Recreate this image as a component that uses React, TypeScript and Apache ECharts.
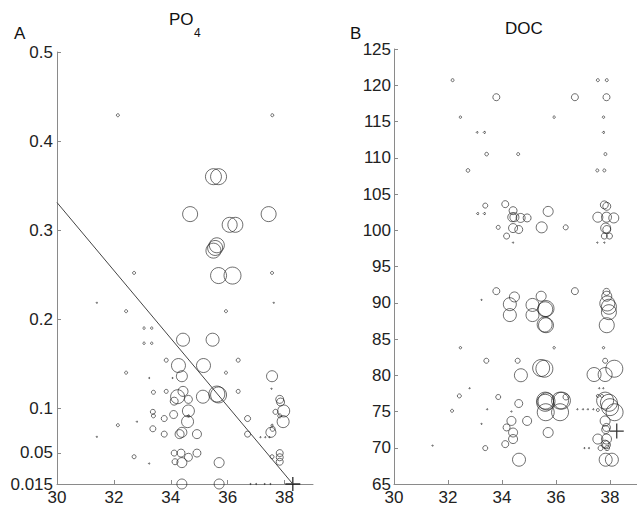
import React, { useEffect, useRef } from "react";
import * as echarts from "echarts";

// [salinity, value, bubble weight]
const po4Points: number[][] = [
  [32.14, 0.429, 1.5], [37.57, 0.429, 1.5],
  [35.5, 0.36, 8], [35.68, 0.36, 8],
  [34.68, 0.318, 7.5], [37.44, 0.318, 7.5],
  [36.07, 0.306, 7.5], [36.27, 0.306, 7.5],
  [35.62, 0.283, 7.5], [35.5, 0.277, 7.5], [35.56, 0.28, 7.5],
  [35.68, 0.249, 8], [36.17, 0.249, 8.5],
  [32.71, 0.252, 1.5], [37.56, 0.252, 1.5],
  [31.4, 0.2185, 0.6], [37.62, 0.2185, 0.6],
  [32.43, 0.209, 1.5], [35.94, 0.209, 1.5],
  [33.06, 0.19, 1.2], [33.33, 0.19, 1.2], [33.06, 0.173, 1.2], [33.33, 0.173, 1.2],
  [34.43, 0.177, 6.5], [35.47, 0.177, 6.5],
  [33.84, 0.154, 2], [36.37, 0.154, 2],
  [34.27, 0.148, 7], [35.15, 0.148, 7],
  [32.43, 0.14, 1.5], [35.94, 0.14, 1.5],
  [33.24, 0.134, 0.6], [34.06, 0.134, 0.6],
  [34.39, 0.136, 5.5], [37.56, 0.136, 5.5],
  [37.54, 0.122, 0.6],
  [33.39, 0.118, 2], [33.84, 0.119, 2],
  [34.24, 0.113, 7], [34.43, 0.119, 5], [34.62, 0.11, 4],
  [35.13, 0.113, 6.5], [35.62, 0.116, 8], [35.68, 0.115, 8],
  [36.37, 0.119, 2], [37.83, 0.11, 4], [37.86, 0.107, 4],
  [34.12, 0.108, 4], [34.62, 0.097, 6],
  [33.37, 0.096, 2.5], [33.39, 0.0915, 2], [34.1, 0.093, 4], [34.62, 0.0915, 1],
  [33.77, 0.0885, 3], [37.97, 0.097, 6], [37.68, 0.096, 2.5], [37.83, 0.0915, 2],
  [34.59, 0.085, 6], [37.95, 0.085, 6], [36.7, 0.0885, 3],
  [32.14, 0.081, 1.5], [32.81, 0.085, 0.6], [33.37, 0.077, 3],
  [37.56, 0.081, 1], [37.58, 0.077, 2.5],
  [31.4, 0.068, 0.6], [33.77, 0.071, 3],
  [34.39, 0.073, 5], [34.31, 0.071, 4.5], [34.92, 0.071, 4.5],
  [36.7, 0.071, 3],
  [37.15, 0.0675, 0.6], [37.32, 0.0675, 0.6], [37.47, 0.0675, 0.6],
  [37.52, 0.073, 5],
  [32.71, 0.0456, 2], [33.24, 0.038, 0.6],
  [34.12, 0.0497, 3], [34.36, 0.0497, 4], [34.92, 0.0497, 4], [34.62, 0.045, 4],
  [34.15, 0.04, 3], [34.39, 0.039, 5], [35.7, 0.039, 5],
  [37.56, 0.0456, 2], [37.83, 0.0497, 3.5], [37.83, 0.045, 3.5], [37.83, 0.04, 3.5],
  [34.39, 0.015, 5], [35.7, 0.015, 5],
  [36.8, 0.015, 0.6], [37.0, 0.015, 0.6], [37.3, 0.015, 0.6], [37.5, 0.015, 0.6],
];

const docPoints: number[][] = [
  [32.17, 120.7, 1.5], [37.55, 120.7, 1.5], [37.88, 120.7, 1.5],
  [33.79, 118.35, 3.5], [36.7, 118.35, 3.5], [37.87, 118.35, 3.5],
  [32.46, 115.6, 1.2], [35.93, 115.6, 1.2], [37.76, 115.6, 1.2],
  [33.08, 113.5, 0.8], [33.35, 113.5, 1], [37.76, 113.5, 1],
  [33.43, 110.5, 1.8], [34.6, 110.5, 1.5], [37.83, 110.5, 1.5],
  [32.74, 108.25, 1.8], [37.53, 108.25, 1.5], [37.79, 108.25, 1.5],
  [33.38, 103.4, 2.5], [33.1, 102.3, 1], [33.35, 102.3, 1],
  [34.12, 103.6, 3.5], [34.41, 102.7, 4], [34.38, 101.8, 4.5], [34.46, 101.8, 4.5],
  [34.69, 101.7, 4.5], [34.93, 101.7, 4], [33.86, 100.4, 2],
  [34.41, 100.3, 4.5], [34.62, 100.1, 4], [34.17, 99.2, 3], [34.41, 98.3, 0.6],
  [35.71, 102.6, 5], [35.47, 100.4, 5.5], [36.36, 100.4, 2.5],
  [37.79, 103.5, 4], [37.88, 103.3, 4], [37.55, 101.8, 5], [37.87, 101.8, 5],
  [38.14, 101.7, 5], [37.84, 100.3, 5], [37.88, 100.1, 4],
  [37.79, 99.2, 3], [37.98, 99.2, 3], [37.53, 98.3, 0.6], [37.79, 98.3, 0.6],
  [33.79, 91.6, 3.5], [33.24, 90.4, 0.6], [34.46, 90.8, 5],
  [34.29, 89.8, 6.5], [34.29, 88.3, 6.5], [35.13, 89.7, 6.5], [35.13, 88.3, 6.5],
  [35.45, 90.9, 5], [35.63, 89.2, 8], [35.6, 89.1, 7.5],
  [35.58, 87.0, 7.5], [35.63, 86.9, 7.5], [36.7, 91.6, 3.5],
  [37.87, 91.5, 3.5], [37.88, 90.9, 5], [37.9, 89.9, 7.5], [37.96, 89.45, 7.5],
  [37.96, 88.7, 7.5], [37.88, 86.9, 7.5],
  [32.46, 83.8, 1.2], [35.93, 83.8, 1.2], [37.76, 83.8, 1.2],
  [33.42, 82.0, 2.5], [34.58, 82.0, 2.5], [37.82, 82.0, 2.5],
  [34.7, 80.0, 6.5], [35.45, 81.0, 8.5], [35.57, 80.9, 8.5],
  [37.41, 80.1, 7], [37.82, 80.1, 7], [38.16, 80.9, 8.5],
  [32.8, 78.2, 0.6], [37.6, 78.2, 0.6], [37.75, 78.2, 0.6],
  [32.42, 77.15, 2], [33.86, 77.0, 2.5], [34.62, 76.1, 4],
  [35.6, 76.5, 8.5], [35.65, 76.4, 8.5], [35.6, 76.2, 8.5],
  [36.15, 76.5, 8.5], [36.22, 76.5, 8.5], [36.37, 77.0, 3],
  [35.62, 74.9, 8.5], [36.15, 74.9, 8.5],
  [33.45, 75.3, 0.6], [34.35, 75.0, 0.6], [32.15, 75.1, 1.5],
  [35.71, 72.1, 5], [34.93, 73.7, 4.5], [34.35, 73.7, 4.5], [34.17, 72.8, 3.5],
  [34.41, 72.1, 4.5], [34.41, 71.2, 4.5], [34.12, 70.5, 3.5], [33.38, 69.95, 2.5],
  [34.63, 68.35, 6.5], [31.43, 70.3, 0.6], [33.24, 73.3, 0.6],
  [36.79, 75.3, 0.6], [37.0, 75.3, 0.6], [37.18, 75.3, 0.6], [37.38, 75.3, 0.6],
  [37.55, 75.2, 1.5], [37.55, 77.15, 1.5], [37.7, 77.15, 1.5],
  [37.82, 76.5, 8.5], [37.96, 76.2, 8.5], [38.0, 75.6, 8.5], [38.17, 74.9, 8.5],
  [37.82, 73.7, 5], [37.87, 72.8, 4], [37.84, 72.5, 4],
  [37.55, 71.2, 5], [37.87, 71.2, 5], [37.82, 70.5, 4], [37.87, 70.4, 4],
  [37.65, 69.95, 2.5], [37.89, 69.95, 2.5], [37.05, 69.95, 0.6], [37.22, 69.95, 0.6],
  [37.84, 68.35, 6.5], [38.07, 68.35, 6.5],
];

const po4FitX = [30, 38.29];
const po4FitY = [0.331, 0.015];
const po4Marker = [38.29, 0.015];
const docMarker = [38.25, 72.3];

const xTicks = [30, 32, 34, 36, 38];
const po4Ticks = [0.015, 0.05, 0.1, 0.2, 0.3, 0.4, 0.5];

const FONT = "'Liberation Sans', Arial, Helvetica, sans-serif";
const AXIS_COLOR = "#8a8a8a";
const TEXT_COLOR = "#222";

function axisBase() {
  return {
    type: "value" as const,
    axisLine: { show: true, onZero: false, lineStyle: { color: AXIS_COLOR, width: 1 } },
    axisTick: { show: true, inside: true, length: 4, lineStyle: { color: AXIS_COLOR } },
    splitLine: { show: false },
    axisLabel: { color: TEXT_COLOR, fontSize: 17, fontFamily: FONT },
  };
}

const PLUS = "path://M7,0 L7,14 M0,7 L14,7";

export default function App() {
  const ref = useRef<HTMLDivElement>(null);
  useEffect(() => {
    if (!ref.current) return;
    const chart = echarts.init(ref.current, undefined, { renderer: "svg" });
    const bubble = (v: number[]) => v[2] * 2;
    const circleStyle = { color: "rgba(0,0,0,0)", borderColor: "#1a1a1a", borderWidth: 0.8 };
    const b0 = axisBase();
    const b1 = axisBase();
    const b2 = axisBase();
    const b3 = axisBase();
    chart.setOption({
      animation: false,
      backgroundColor: "#fff",
      grid: [
        { left: 57, top: 52, width: 256, height: 433 },
        { left: 394, top: 49, width: 257, height: 436 },
      ],
      xAxis: [
        {
          ...b0, gridIndex: 0, min: 30, max: 39,
          axisTick: { ...b0.axisTick, customValues: xTicks },
          axisLabel: { ...b0.axisLabel, customValues: xTicks, margin: 5 },
        },
        {
          ...b1, gridIndex: 1, min: 30, max: 39,
          axisTick: { ...b1.axisTick, customValues: xTicks },
          axisLabel: { ...b1.axisLabel, customValues: xTicks, margin: 5 },
        },
      ],
      yAxis: [
        {
          ...b2, gridIndex: 0, min: 0.015, max: 0.5,
          axisTick: { ...b2.axisTick, customValues: po4Ticks },
          axisLabel: {
            ...b2.axisLabel, customValues: po4Ticks, margin: 4,
            formatter: (v: number) => String(Math.round(v * 1000) / 1000),
          },
        },
        {
          ...b3, gridIndex: 1, min: 65, max: 125, interval: 5,
          axisLabel: { ...b3.axisLabel, margin: 3 },
        },
      ],
      series: [
        {
          type: "scatter", xAxisIndex: 0, yAxisIndex: 0,
          data: po4Points, symbol: "circle", symbolSize: bubble,
          itemStyle: circleStyle, clip: false,
        },
        {
          type: "line", xAxisIndex: 0, yAxisIndex: 0,
          data: po4FitX.map((x, i) => [x, po4FitY[i]]),
          showSymbol: false, lineStyle: { color: "#444", width: 1 },
        },
        {
          type: "scatter", xAxisIndex: 0, yAxisIndex: 0,
          data: [po4Marker], symbol: PLUS, symbolSize: [15, 14],
          itemStyle: { color: "none", borderColor: "#000", borderWidth: 1.3 }, clip: false,
        },
        {
          type: "scatter", xAxisIndex: 1, yAxisIndex: 1,
          data: docPoints, symbol: "circle", symbolSize: bubble,
          itemStyle: circleStyle, clip: false,
        },
        {
          type: "scatter", xAxisIndex: 1, yAxisIndex: 1,
          data: [docMarker], symbol: PLUS, symbolSize: [14, 15],
          itemStyle: { color: "none", borderColor: "#000", borderWidth: 1.3 }, clip: false,
        },
      ],
      graphic: [
        { type: "text", left: 14, top: 25, style: { text: "A", fontSize: 17, fontFamily: FONT, fill: "#111" } },
        { type: "text", left: 350, top: 25, style: { text: "B", fontSize: 17, fontFamily: FONT, fill: "#111" } },
        { type: "text", left: 169, top: 11, style: { text: "PO", fontSize: 17, fontFamily: FONT, fill: "#111" } },
        { type: "text", left: 194, top: 27, style: { text: "4", fontSize: 12, fontFamily: FONT, fill: "#111" } },
        { type: "text", left: 505, top: 20, style: { text: "DOC", fontSize: 17, fontFamily: FONT, fill: "#111" } },
      ],
    });
    return () => chart.dispose();
  }, []);
  return (
    <div
      ref={ref}
      style={{ position: "absolute", left: 0, top: 0, width: 637, height: 506, overflow: "hidden" }}
    />
  );
}
